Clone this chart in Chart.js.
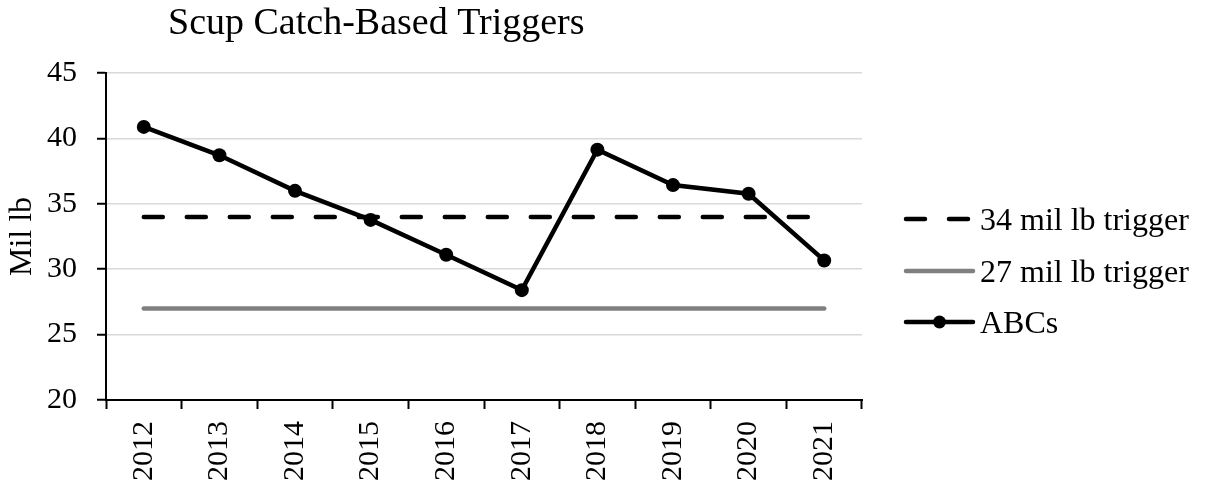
<!DOCTYPE html>
<html>
<head>
<meta charset="utf-8">
<script src="https://cdn.jsdelivr.net/npm/chart.js@4"></script>
<style>
  html, body { margin: 0; padding: 0; background: #fff; }
  #wrap { width: 1206px; height: 486px; }
</style>
</head>
<body>
<div id="wrap"><canvas id="chart" width="1206" height="486"></canvas></div>
<script>
const years = ['2012', '2013', '2014', '2015', '2016', '2017', '2018', '2019', '2020', '2021'];
const abcs = [40.88, 38.71, 35.99, 33.77, 31.11, 28.40, 39.14, 36.43, 35.77, 30.67];
const trigger34 = [34, 34, 34, 34, 34, 34, 34, 34, 34, 34];
const trigger27 = [27, 27, 27, 27, 27, 27, 27, 27, 27, 27];
const yTicks = [20, 25, 30, 35, 40, 45];

const serif = "'Times New Roman', 'Liberation Serif', serif";
const chartTitle = 'Scup Catch-Based Triggers';

// title sits left of centre like the Excel original, so draw it ourselves
const titlePlugin = {
  id: 'sideTitle',
  afterDraw(chart) {
    const ctx = chart.ctx;
    ctx.save();
    ctx.font = '38px ' + serif;
    ctx.fillStyle = '#000';
    ctx.textAlign = 'left';
    ctx.textBaseline = 'alphabetic';
    ctx.fillText(chartTitle, 168, 34);
    ctx.restore();
  }
};

// Excel style legend: line samples with text to the right
const legendPlugin = {
  id: 'lineLegend',
  afterDraw(chart) {
    const ctx = chart.ctx;
    const x0 = chart.chartArea.right + 42;
    const x1 = x0 + 71;
    const rows = [219, 271, 322];
    chart.data.datasets.forEach((ds, i) => {
      const y = rows[i];
      ctx.save();
      ctx.strokeStyle = ds.borderColor;
      ctx.lineWidth = ds.borderWidth;
      ctx.lineCap = 'round';
      ctx.setLineDash(ds.borderDash || []);
      ctx.beginPath();
      ctx.moveTo(x0 + 2, y);
      ctx.lineTo(x1 - 2, y);
      ctx.stroke();
      ctx.setLineDash([]);
      if (ds.pointRadius > 0) {
        ctx.fillStyle = ds.pointBackgroundColor;
        ctx.beginPath();
        ctx.arc((x0 + x1) / 2, y, ds.pointRadius - 0.5, 0, Math.PI * 2);
        ctx.fill();
      }
      ctx.font = '32px ' + serif;
      ctx.fillStyle = '#000';
      ctx.textBaseline = 'alphabetic';
      ctx.textAlign = 'left';
      ctx.fillText(ds.label, x1 + 5, y + 11);
      ctx.restore();
    });
  }
};

const ctx = document.getElementById('chart').getContext('2d');
new Chart(ctx, {
  type: 'line',
  data: {
    labels: years,
    datasets: [
      {
        label: '34 mil lb trigger',
        data: trigger34,
        borderColor: '#000',
        borderWidth: 4.5,
        borderDash: [19, 24],
        borderCapStyle: 'round',
        pointRadius: 0,
        order: 2
      },
      {
        label: '27 mil lb trigger',
        data: trigger27,
        borderColor: '#808080',
        borderWidth: 4.5,
        borderCapStyle: 'round',
        pointRadius: 0,
        order: 3
      },
      {
        label: 'ABCs',
        data: abcs,
        borderColor: '#000',
        borderWidth: 4.5,
        borderCapStyle: 'round',
        pointRadius: 7,
        pointBackgroundColor: '#000',
        pointBorderColor: '#000',
        pointBorderWidth: 0,
        order: 1
      }
    ]
  },
  options: {
    responsive: false,
    animation: false,
    layout: { padding: { top: 73, right: 344, bottom: 0, left: 0 } },
    plugins: {
      legend: { display: false },
      title: { display: false },
      tooltip: { enabled: false }
    },
    scales: {
      x: {
        offset: true,
        afterFit: s => { s.height = 86; },
        grid: {
          offset: true,
          drawOnChartArea: false,
          drawTicks: true,
          tickLength: 9,
          tickColor: '#000',
          tickWidth: 2
        },
        border: { color: '#000', width: 2 },
        ticks: {
          color: '#000',
          font: { family: serif, size: 30 },
          minRotation: 90,
          maxRotation: 90,
          padding: 12,
          autoSkip: false
        }
      },
      y: {
        min: 20,
        max: 45,
        afterFit: s => { s.width = 106; },
        afterBuildTicks: s => { s.ticks = yTicks.map(v => ({ value: v })); },
        grid: {
          color: '#d9d9d9',
          lineWidth: 1.5,
          tickColor: '#000',
          tickLength: 9,
          tickWidth: 2
        },
        border: { color: '#000', width: 2 },
        ticks: {
          color: '#000',
          font: { family: serif, size: 30 },
          padding: 20
        },
        title: {
          display: true,
          text: 'Mil lb',
          color: '#000',
          font: { family: serif, size: 32 },
          padding: { top: 3, bottom: 0 }
        }
      }
    }
  },
  plugins: [titlePlugin, legendPlugin]
});
</script>
</body>
</html>
